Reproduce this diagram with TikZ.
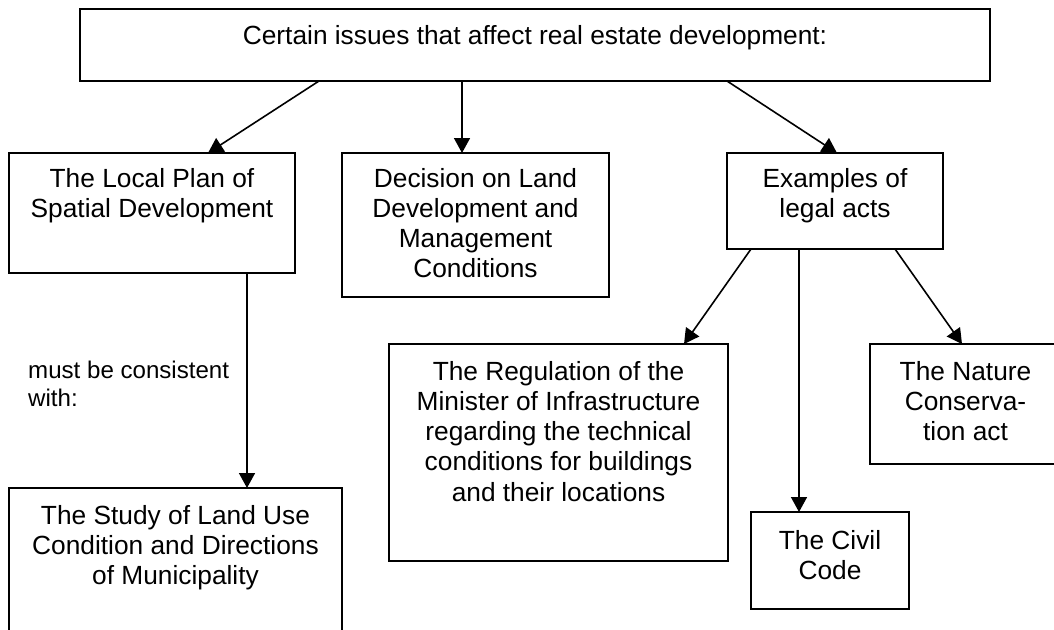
\documentclass[tikz,border=0pt]{standalone}
\usepackage{fontspec}
\setmainfont{Liberation Sans}
\usetikzlibrary{arrows.meta, positioning}

\begin{document}
\begin{tikzpicture}[
    x=1pt, y=-1pt,
    frame/.style={rectangle, draw, line width=1.5pt, inner sep=0pt, outer sep=0pt, anchor=north west},
    txt/.style={align=center, inner sep=0pt, anchor=north, font=\fontsize{26.3}{30.2}\selectfont},
    arr/.style={-{Triangle[length=15pt, width=16pt]}, line width=1.6pt}
    ]
    \path[use as bounding box, clip] (0,0) rectangle (1054,629);

    % Top issue
    \node[frame, minimum width=910pt, minimum height=72pt] (issues) at (80,9) {};
    \node[txt] (issuest) at (535,25.5) {Certain issues that affect real estate development:};

    % First level
    \node[frame, minimum width=286pt, minimum height=120pt] (plan) at (9,153) {};
    \node[txt] (plant) at (152,168) {The Local Plan of\\Spatial Development};

    \node[frame, minimum width=267pt, minimum height=144pt] (decision) at (342,153) {};
    \node[txt] (decisiont) at (475.5,168) {Decision on Land\\Development and\\Management\\Conditions};

    \node[frame, minimum width=216pt, minimum height=96pt] (legal) at (727,153) {};
    \node[txt] (legalt) at (835,168) {Examples of\\legal acts};

    \draw[arr] ([xshift=-216pt]issues.south) -- ([xshift=56pt]plan.north);
    \draw[arr] ([xshift=-73pt]issues.south) -- ([xshift=-13.5pt]decision.north);
    \draw[arr] ([xshift=192pt]issues.south) -- ([xshift=2pt]legal.north);

    % Study of land use
    \node[frame, minimum width=333pt, minimum height=180pt] (study) at (9,488) {};
    \node[txt] (studyt) at (175.5,505) {The Study of Land Use\\Condition and Directions\\of Municipality};
    \node[txt, align=left, anchor=north west, font=\fontsize{24.1}{28}\selectfont] (consistent) at (28,361) {must be consistent\\with:};
    \draw[arr] ([xshift=95pt]plan.south) -- ([xshift=71.5pt]study.north);

    % Legal acts
    \node[frame, minimum width=339pt, minimum height=217pt] (regulation) at (389,344) {};
    \node[txt] (regulationt) at (558.5,361) {The Regulation of the\\Minister of Infrastructure\\regarding the technical\\conditions for buildings\\and their locations};

    \node[frame, minimum width=158pt, minimum height=97pt] (civil) at (751,512) {};
    \node[txt] (civilt) at (830,530) {The Civil\\Code};

    \node[frame, minimum width=191pt, minimum height=120pt] (nature) at (870,344) {};
    \node[txt] (naturet) at (965.5,361) {The Nature\\Conserva-\\tion act};

    \draw[arr] ([xshift=-84pt]legal.south) -- ([xshift=125.5pt]regulation.north);
    \draw[arr] ([xshift=-36pt]legal.south) -- ([xshift=-31pt]civil.north);
    \draw[arr] ([xshift=60pt]legal.south) -- ([xshift=-3.5pt]nature.north);
\end{tikzpicture}
\end{document}
